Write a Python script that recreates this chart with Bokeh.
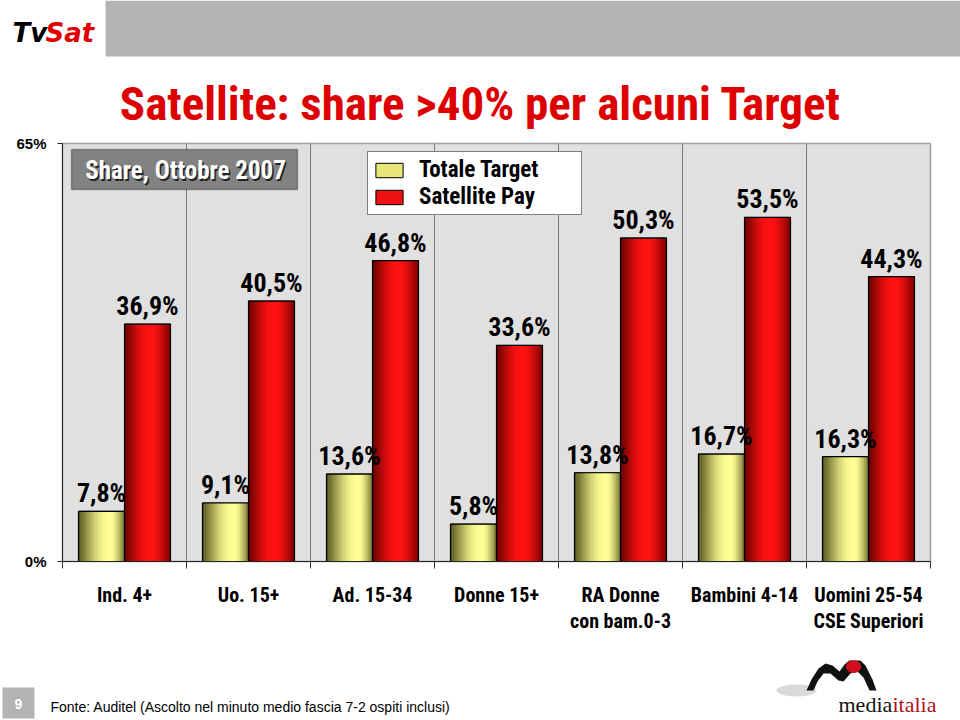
import math
from bokeh.plotting import figure
from bokeh.layouts import column
from bokeh.models import (Range1d, FixedTicker, Label, LabelSet, BoxAnnotation,
                          ColumnDataSource, Legend, LegendItem)
from bokeh.core.properties import value
from bokeh.transform import dodge
from bokeh.embed import file_html
from bokeh.resources import INLINE

# ---------------- data ----------------
categories = ["Ind. 4+", "Uo. 15+", "Ad. 15-34", "Donne 15+",
              "RA Donne\ncon bam.0-3", "Bambini 4-14", "Uomini 25-54\nCSE Superiori"]
totale_target = [7.8, 9.1, 13.6, 5.8, 13.8, 16.7, 16.3]
satellite_pay = [36.9, 40.5, 46.8, 33.6, 50.3, 53.5, 44.3]
series_names = ["Totale Target", "Satellite Pay"]
y_ticks = [0, 65]
y_tick_labels = ["0%", "65%"]

title_text = "Satellite: share >40% per alcuni Target"
box_text = "Share, Ottobre 2007"
source_text = "Fonte: Auditel (Ascolto nel minuto medio fascia 7-2 ospiti inclusi)"

NARROW = ("'Liberation Sans Narrow', 'Arial Narrow', 'Roboto Condensed', 'Open Sans Condensed', "
          "'Noto Sans Condensed', 'DejaVu Sans Condensed', sans-serif")
ARIAL = "'Liberation Sans', Arial, sans-serif"

W = 960
H_HEAD, H_MAIN, H_FOOT = 130, 530, 60

def deco_fig(h, y0):
    f = figure(width=W, height=h, output_backend="svg", toolbar_location=None,
               x_range=Range1d(0, W), y_range=Range1d(y0 + h, y0),
               x_axis_type=None, y_axis_type=None, min_border=0, frame_align=False)
    f.outline_line_color = None
    f.background_fill_color = "white"
    f.border_fill_color = "white"
    f.grid.visible = False
    return f

# ---------------- header ----------------
head = deco_fig(H_HEAD, 0)
head.quad(left=105, right=W, top=0, bottom=56, fill_color="#b3b3b3", line_color=None)
head.text(x=[12], y=[32], text=["Tv"], text_font=value("DejaVu Sans"), text_font_style="bold italic",
          text_font_size="26px", text_color="black", text_baseline="alphabetic", text_align="left")
head.text(x=[45], y=[32], text=["Sat"], text_font=value("DejaVu Sans"), text_font_style="bold italic",
          text_font_size="26px", text_color="#e00000", text_baseline="alphabetic", text_align="left")
head.text(x=[480], y=[103], text=[title_text], text_font=value(NARROW), text_font_style="bold",
          text_font_size="47px", text_color="#dd0000", text_baseline="alphabetic", text_align="center")

# ---------------- main chart ----------------
FL, FB = 62, 561  # frame left / bottom in page pixels
def sx(X):
    return X - FL
def sy(Y):
    return FB - Y

p = figure(width=W, height=H_MAIN, output_backend="svg", toolbar_location=None,
           x_range=Range1d(0, len(categories)), y_range=Range1d(0, 65),
           min_border_left=62, min_border_right=30, min_border_top=143 - H_HEAD,
           min_border_bottom=H_HEAD + H_MAIN - 561, frame_align=False)
p.background_fill_color = "#e0e0e0"
p.border_fill_color = "white"
p.outline_line_color = "#a0a0a0"
p.outline_line_width = 1.5

centers = [i + 0.5 for i in range(len(categories))]
bw = 0.371
half = bw / 2

src = ColumnDataSource(dict(
    x=centers, cat=categories, tt=totale_target, sp=satellite_pay,
    tt_lab=[f"{v:.1f}".replace(".", ",") + "%" for v in totale_target],
    sp_lab=[f"{v:.1f}".replace(".", ",") + "%" for v in satellite_pay],
))

def grad(t, dark_l, bright, dark_r, peak):
    if t <= peak:
        f = math.sin((t / peak) * math.pi / 2)
        a, b = dark_l, bright
    else:
        f = math.cos(((t - peak) / (1 - peak)) * math.pi / 2)
        a, b = dark_r, bright
    c = [int(round(a[i] + (b[i] - a[i]) * f)) for i in range(3)]
    return "#%02x%02x%02x" % tuple(c)

N = 22
styles = [
    dict(col="tt", off=-half, dark_l=(75, 75, 22), bright=(255, 255, 150), dark_r=(110, 110, 45), peak=0.68, base="#e6e67a"),
    dict(col="sp", off=half, dark_l=(90, 0, 0), bright=(255, 18, 18), dark_r=(115, 0, 0), peak=0.56, base="#ee1111"),
]

base_renderers = []
for st in styles:
    base = p.vbar(x=dodge("x", st["off"], range=p.x_range), top=st["col"], bottom=0,
                  width=bw, source=src, fill_color=st["base"], line_color="black", line_width=1)
    base_renderers.append(base)
    sw = bw / N
    for k in range(N):
        t = (k + 0.5) / N
        off = st["off"] - half + (k + 0.5) * sw
        col = grad(t, st["dark_l"], st["bright"], st["dark_r"], st["peak"])
        p.vbar(x=dodge("x", off, range=p.x_range), top=st["col"], bottom=0,
               width=sw * 1.15, source=src, fill_color=col, line_color=None)
    p.vbar(x=dodge("x", st["off"], range=p.x_range), top=st["col"], bottom=0,
           width=bw, source=src, fill_color=None, line_color="black", line_width=1.2)

for st, lab in zip(styles, ["tt_lab", "sp_lab"]):
    p.add_layout(LabelSet(x=dodge("x", st["off"], range=p.x_range), y=st["col"], text=lab,
                          source=src, y_offset=9, text_align="center",
                          text_baseline="alphabetic", text_font=value(NARROW),
                          text_font_style="bold", text_font_size="26px",
                          text_color="black"))

# axes
p.xaxis.ticker = FixedTicker(ticks=centers, minor_ticks=list(range(len(categories) + 1)))
p.xaxis.major_label_overrides = {c: lab for c, lab in zip(centers, categories)}
p.xaxis.major_tick_line_color = None
p.xaxis.major_tick_out = 0
p.xaxis.major_tick_in = 0
p.xaxis.minor_tick_out = 7
p.xaxis.minor_tick_in = 0
p.xaxis.minor_tick_line_color = "#333333"
p.xaxis.axis_line_color = "#222222"
p.xaxis.major_label_standoff = 14
p.xaxis.major_label_text_font = NARROW
p.xaxis.major_label_text_font_style = "bold"
p.xaxis.major_label_text_font_size = "20px"
p.xaxis.major_label_text_color = "black"
p.xaxis.major_label_text_line_height = 1.1

p.yaxis.ticker = FixedTicker(ticks=y_ticks, minor_ticks=[])
p.yaxis.major_label_overrides = {t: l for t, l in zip(y_ticks, y_tick_labels)}
p.yaxis.major_tick_out = 5
p.yaxis.major_tick_in = 0
p.yaxis.minor_tick_line_color = None
p.yaxis.major_tick_line_color = "#222222"
p.yaxis.axis_line_color = "#222222"
p.yaxis.major_label_standoff = 11
p.yaxis.major_label_text_font = ARIAL
p.yaxis.major_label_text_font_style = "bold"
p.yaxis.major_label_text_font_size = "15px"
p.yaxis.major_label_text_color = "black"

p.xgrid.grid_line_color = None
p.xgrid.minor_grid_line_color = "#7a7a7a"
p.xgrid.minor_grid_line_width = 1
p.ygrid.grid_line_color = None

# legend
legend = Legend(items=[LegendItem(label=series_names[0], renderers=[base_renderers[0]]),
                       LegendItem(label=series_names[1], renderers=[base_renderers[1]])],
                location=(sx(367), sy(215)), orientation="vertical")
legend.border_line_color = "black"
legend.border_line_width = 1.5
legend.background_fill_color = "white"
legend.background_fill_alpha = 1
legend.label_text_font = NARROW
legend.label_text_font_style = "bold"
legend.label_text_font_size = "23px"
legend.label_text_color = "black"
legend.glyph_width = 34
legend.glyph_height = 18
legend.label_height = 20
legend.label_width = 158
legend.label_standoff = 13
legend.spacing = 0
legend.padding = 4
legend.margin = 0
legend.label_text_line_height = 1.0
p.add_layout(legend)

# "Share, Ottobre 2007" box
p.add_layout(BoxAnnotation(left=sx(71), right=sx(297), top=sy(149), bottom=sy(189),
                           left_units="screen", right_units="screen",
                           top_units="screen", bottom_units="screen",
                           fill_color="#828282", fill_alpha=1,
                           line_color="black", line_width=1.5, level="overlay"))
p.add_layout(Label(x=sx(185) + 1.5, y=sy(170) - 1.5, x_units="screen", y_units="screen",
                   text=box_text, text_align="center", text_baseline="middle",
                   text_font=NARROW, text_font_style="bold", text_font_size="25px",
                   text_color="#222222", level="overlay"))
p.add_layout(Label(x=sx(185), y=sy(170), x_units="screen", y_units="screen",
                   text=box_text, text_align="center", text_baseline="middle",
                   text_font=NARROW, text_font_style="bold", text_font_size="25px",
                   text_color="white", level="overlay"))

# ---------------- footer ----------------
Y0 = H_HEAD + H_MAIN
foot = deco_fig(H_FOOT, Y0)
foot.quad(left=2, right=34, top=687, bottom=718, fill_color="#b3b3b3", line_color=None)
foot.text(x=[18], y=[703], text=["9"], text_font=value(ARIAL), text_font_style="bold",
          text_font_size="14px", text_color="white", text_baseline="middle", text_align="center")
foot.text(x=[50], y=[706], text=[source_text], text_font=value(ARIAL),
          text_font_size="14px", text_color="black", text_baseline="alphabetic", text_align="left")

def ring(cx, cy, rx, ry, n=30):
    xs = [cx + rx * math.cos(2 * math.pi * i / n) for i in range(n)]
    ys = [cy + ry * math.sin(2 * math.pi * i / n) for i in range(n)]
    return xs, ys

gx, gy = ring(796, 690, 20, 6)
foot.patch(gx, gy, fill_color="#d9d9d9", line_color=None)
m_pts = [(806, 690), (811, 679), (818, 668), (825, 663), (832, 665), (839, 671),
         (844, 664), (851, 658), (858, 658), (865, 665), (872, 679), (876, 690),
         (869, 690), (863, 677), (857, 671), (850, 673), (843, 681), (838, 680),
         (830, 673), (823, 673), (817, 681), (813, 690)]
foot.patch([a for a, b in m_pts], [b for a, b in m_pts], fill_color="#111111", line_color=None)
rx_, ry_ = ring(853, 666, 7.5, 6.5)
foot.patch(rx_, ry_, fill_color="#d0101e", line_color=None)
foot.text(x=[838], y=[704], text=["media"], text_font=value("Liberation Serif"),
          text_font_size="22px", text_color="#111111", text_baseline="alphabetic", text_align="left")
foot.text(x=[892], y=[704], text=["italia"], text_font=value("Liberation Serif"),
          text_font_size="22px", text_color="#b0101e", text_baseline="alphabetic", text_align="left")

layout = column(head, p, foot, spacing=0)
open("out.html", "w").write(file_html(layout, INLINE))
